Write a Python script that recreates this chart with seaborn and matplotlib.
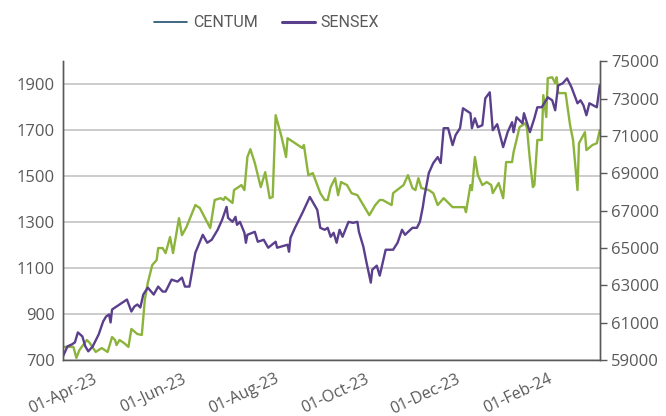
import numpy as np
import pandas as pd
import matplotlib
matplotlib.use('Agg')
import matplotlib.pyplot as plt
import matplotlib.dates as mdates
from matplotlib.lines import Line2D
import seaborn as sns

# days counted from 01-Apr-2023
centum_days = [0, 7, 9, 11, 16, 18, 22, 26, 30, 33,
               35, 36, 38, 41, 44, 46, 50, 53, 55, 57,
               60, 63, 64, 67, 69, 72, 74, 78, 80, 83,
               89, 92, 99, 102, 106, 108, 109, 114, 115, 120,
               122, 124, 126, 129, 133, 136, 139, 141, 143, 147,
               150, 151, 161, 162, 165, 168, 173, 176, 178, 180,
               183, 185, 187, 191, 194, 198, 206, 210, 213, 215,
               221, 222, 229, 232, 235, 237, 239, 241, 246, 249,
               252, 256, 262, 270, 271, 274, 275, 277, 279, 282,
               285, 288, 289, 293, 296, 298, 302, 303, 305, 307,
               311, 312, 314, 316, 317, 319, 322, 323, 325, 326,
               329, 331, 332, 333, 338, 341, 343, 346, 347, 351,
               352, 356, 359, 361]
centum = [757, 757, 709, 743, 787, 774, 735, 752, 735, 800,
          787, 765, 787, 774, 757, 835, 813, 809, 961, 1035,
          1113, 1135, 1187, 1187, 1165, 1235, 1165, 1317, 1243, 1278,
          1374, 1361, 1274, 1396, 1404, 1396, 1409, 1383, 1439, 1461,
          1439, 1583, 1617, 1557, 1452, 1517, 1404, 1409, 1765, 1670,
          1583, 1665, 1622, 1635, 1504, 1513, 1426, 1396, 1396, 1452,
          1491, 1417, 1474, 1461, 1426, 1417, 1330, 1374, 1396, 1396,
          1374, 1426, 1461, 1504, 1448, 1439, 1491, 1448, 1439, 1426,
          1374, 1404, 1365, 1365, 1343, 1461, 1439, 1583, 1504, 1461,
          1474, 1461, 1426, 1470, 1404, 1561, 1561, 1604, 1657, 1713,
          1730, 1709, 1570, 1452, 1461, 1657, 1657, 1852, 1757, 1926,
          1930, 1904, 1930, 1861, 1861, 1722, 1657, 1439, 1643, 1691,
          1613, 1635, 1643, 1700]

sensex_days = [0, 3, 6, 8, 10, 13, 15, 17, 20, 24,
               27, 29, 31, 32, 33, 35, 43, 46, 48, 50,
               52, 54, 57, 61, 64, 67, 69, 73, 77, 80,
               82, 85, 89, 94, 97, 100, 104, 107, 110, 111,
               114, 116, 117, 119, 122, 123, 124, 129, 131, 135,
               138, 143, 144, 151, 152, 153, 156, 161, 166, 171,
               173, 176, 178, 180, 182, 184, 186, 188, 192, 195,
               198, 199, 202, 204, 207, 208, 211, 213, 217, 220,
               222, 225, 228, 230, 235, 238, 240, 242, 243, 246,
               249, 252, 254, 256, 259, 262, 264, 267, 269, 274,
               275, 277, 279, 282, 284, 287, 289, 292, 296, 299,
               302, 303, 305, 309, 310, 314, 317, 319, 322, 326,
               329, 331, 333, 336, 339, 342, 346, 348, 350, 352,
               354, 359, 361]
sensex = [59197, 59731, 59837, 59944, 60477, 60264, 59731, 59464, 59731, 60371,
          61064, 61331, 61437, 61011, 61704, 61811, 62237, 61597, 61864, 61971,
          61811, 62504, 62877, 62504, 62931, 62664, 62664, 63304, 63197, 63411,
          62931, 62931, 64744, 65704, 65277, 65437, 65971, 66504, 67197, 66611,
          66397, 66664, 66237, 66397, 65811, 65277, 65704, 65864, 65331, 65437,
          65011, 65331, 65011, 65171, 64797, 65544, 66077, 66877, 67731, 67037,
          66077, 65971, 66077, 65597, 65811, 65277, 65971, 65597, 66397, 66344,
          66397, 65864, 65064, 64264, 63144, 63837, 64051, 63517, 64904, 64904,
          64904, 65277, 65971, 65704, 66077, 66077, 66397, 67197, 67731, 69011,
          69544, 69864, 69544, 71411, 71411, 70504, 71037, 71411, 72477, 72211,
          71411, 71944, 71464, 71571, 73011, 73331, 71304, 71624, 70397, 71197,
          71731, 71197, 71997, 71677, 72211, 71197, 71944, 72531, 72531, 73064,
          72904, 72371, 73704, 73811, 74077, 73597, 72744, 72904, 72637, 72104,
          72744, 72531, 73704]

left_ticks = [700, 900, 1100, 1300, 1500, 1700, 1900]
right_ticks = [59000, 61000, 63000, 65000, 67000, 69000, 71000, 73000, 75000]

start = pd.Timestamp('2023-04-01')
df_c = pd.DataFrame({'date': start + pd.to_timedelta(centum_days, unit='D'), 'value': centum})
df_s = pd.DataFrame({'date': start + pd.to_timedelta(sensex_days, unit='D'), 'value': sensex})

sns.set_style('white')
plt.rcParams['font.family'] = ['Open Sans', 'DejaVu Sans']

green = '#8cb43c'
purple = '#5a3f8c'
grey = '#595959'

fig = plt.figure(figsize=(6.66, 4.16), dpi=100)
ax1 = fig.add_axes([0.0946, 0.1346, 0.806, 0.7184])
ax2 = ax1.twinx()

sns.lineplot(data=df_c, x='date', y='value', ax=ax1, color=green, linewidth=1.7, legend=False)
sns.lineplot(data=df_s, x='date', y='value', ax=ax2, color=purple, linewidth=1.7, legend=False)

ax1.set_ylim(700, 2000)
ax1.set_yticks(left_ticks)
ax2.set_ylim(59000, 75000)
ax2.set_yticks(right_ticks)
ax1.set_xlim(start, start + pd.Timedelta(days=361))

ax1.grid(axis='y', color='#bfbfbf', linewidth=1.1)
ax1.set_axisbelow(True)

ax1.xaxis.set_major_locator(mdates.MonthLocator(bymonth=[2, 4, 6, 8, 10, 12]))
ax1.xaxis.set_major_formatter(mdates.DateFormatter('%d-%b-%y'))

for ax in (ax1, ax2):
    ax.set_xlabel('')
    ax.set_ylabel('')
    for s in ax.spines.values():
        s.set_color('#595959')
        s.set_linewidth(1.0)
    ax.spines['top'].set_visible(False)
    ax.tick_params(labelsize=12, colors=grey)

ax1.spines['bottom'].set_color('#a6a6a6')
ax1.tick_params(axis='x', length=5, width=1, color='#595959', pad=3, labelsize=11.5)
ax1.tick_params(axis='y', length=0, pad=6)
ax2.tick_params(axis='y', length=5, width=1, color='#595959', pad=3)
for lbl in ax1.get_xticklabels():
    lbl.set_rotation(25)
    lbl.set_ha('center')
    lbl.set_color(grey)

handles = [Line2D([], [], color='#1f4e6e', linewidth=1.2),
           Line2D([], [], color=purple, linewidth=2.2)]
fig.legend(handles, ['CENTUM', 'SENSEX'], loc='center', bbox_to_anchor=(0.40, 0.945),
           ncol=2, frameon=False, labelcolor=grey,
           handlelength=2.1, columnspacing=1.5, handletextpad=0.35,
           prop={'family': ['Roboto', 'DejaVu Sans'], 'size': 11.5})

fig.savefig('out.png', dpi=100)
